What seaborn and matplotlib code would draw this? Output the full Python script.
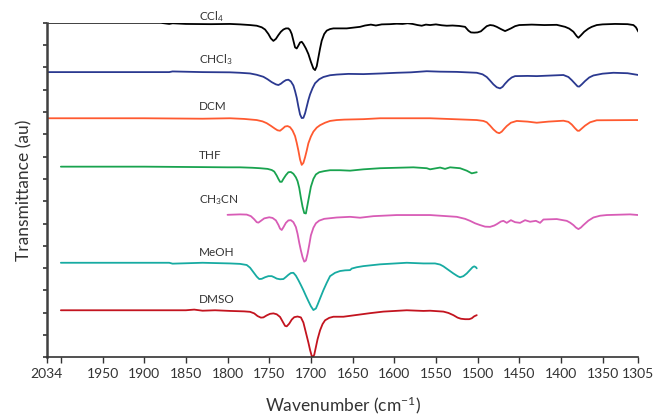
import numpy as np
import pandas as pd
import matplotlib
matplotlib.use("Agg")
import matplotlib.pyplot as plt
import seaborn as sns

# wavenumber (cm-1) and dip depth below each trace's own baseline (au)
ccl4_wn = [2017, 1950, 1880, 1870, 1866, 1850, 1820, 1797, 1785, 1773, 1765, 1759, 1755, 1751, 1748, 1745, 1742, 1739,
           1736, 1733, 1730, 1727, 1725, 1723, 1721, 1719, 1717, 1715, 1713, 1711, 1709, 1706, 1703, 1700, 1697, 1695,
           1693, 1691, 1689, 1687, 1684, 1681, 1677, 1673, 1657, 1641, 1635, 1628, 1622, 1615, 1605, 1597, 1590, 1584,
           1578, 1572, 1567, 1562, 1557, 1550, 1543, 1537, 1530, 1522, 1515, 1511, 1508, 1504, 1500, 1496, 1493, 1489,
           1485, 1481, 1477, 1472, 1467, 1464, 1460, 1455, 1450, 1435, 1420, 1405, 1395, 1390, 1385, 1381, 1379, 1376,
           1372, 1367, 1363, 1357, 1350, 1335, 1320, 1313, 1310, 1307]
ccl4_dip = [0, 0, 0, 0.05, 0.02, 0.05, 0.06, 0.05, 0.07, 0.10, 0.13, 0.20, 0.30, 0.50, 0.70, 0.81, 0.72, 0.55,
            0.40, 0.30, 0.25, 0.25, 0.33, 0.50, 0.80, 1.10, 1.15, 1.02, 0.88, 0.85, 0.95, 1.15, 1.40, 1.75, 2.05, 2.12,
            1.95, 1.55, 1.15, 0.80, 0.50, 0.35, 0.28, 0.25, 0.25, 0.18, 0.12, 0.08, 0.12, 0.07, 0.06, 0.04, 0.05, 0.02,
            0.05, 0.10, 0.13, 0.08, 0.10, 0.07, 0.11, 0.13, 0.12, 0.14, 0.18, 0.35, 0.43, 0.44, 0.43, 0.38, 0.28, 0.15,
            0.10, 0.12, 0.18, 0.28, 0.37, 0.32, 0.25, 0.15, 0.10, 0.08, 0.10, 0.09, 0.18, 0.26, 0.40, 0.60, 0.67, 0.56,
            0.40, 0.26, 0.18, 0.10, 0.07, 0.05, 0.06, 0.10, 0.20, 0.40]

chcl3_wn = [2017, 1900, 1870, 1866, 1830, 1797, 1785, 1773, 1765, 1757, 1752, 1747, 1742, 1739, 1736, 1733, 1730, 1727,
            1724, 1721, 1719, 1717, 1715, 1713, 1711, 1709, 1707, 1705, 1703, 1701, 1698, 1695, 1690, 1685, 1677, 1669,
            1655, 1637, 1615, 1597, 1580, 1561, 1545, 1525, 1501, 1494, 1489, 1485, 1481, 1477, 1473, 1470, 1467, 1463,
            1459, 1455, 1440, 1429, 1410, 1397, 1391, 1387, 1383, 1380, 1378, 1375, 1371, 1366, 1361, 1350, 1337, 1320,
            1307]
chcl3_dip = [0, 0, 0, -0.03, 0, 0.01, 0.03, 0.06, 0.12, 0.21, 0.32, 0.45, 0.55, 0.58, 0.52, 0.43, 0.36, 0.34,
             0.42, 0.60, 0.85, 1.15, 1.55, 1.90, 2.06, 2.05, 1.85, 1.55, 1.25, 1.00, 0.72, 0.50, 0.32, 0.22, 0.14, 0.11,
             0.08, 0.09, 0.06, 0.03, 0.01, -0.04, -0.02, -0.01, 0.03, 0.10, 0.22, 0.38, 0.55, 0.68, 0.73, 0.66, 0.52, 0.36,
             0.24, 0.18, 0.17, 0.18, 0.15, 0.13, 0.22, 0.36, 0.52, 0.64, 0.65, 0.55, 0.40, 0.24, 0.15, 0.07, 0.03, 0.05,
             0.13]

dcm_wn = [2017, 1900, 1830, 1797, 1780, 1765, 1758, 1753, 1748, 1743, 1740, 1737, 1734, 1731, 1728, 1725, 1722, 1719,
          1717, 1715, 1713, 1711, 1709, 1707, 1705, 1703, 1700, 1697, 1693, 1689, 1683, 1677, 1669, 1660, 1637, 1617,
          1557, 1501, 1493, 1489, 1485, 1481, 1477, 1474, 1471, 1468, 1465, 1460, 1453, 1440, 1429, 1415, 1397, 1391,
          1387, 1383, 1380, 1378, 1375, 1371, 1365, 1357, 1307]
dcm_dip = [0, 0, 0.02, 0, 0.03, 0.08, 0.14, 0.22, 0.34, 0.47, 0.54, 0.56, 0.47, 0.37, 0.35, 0.40, 0.55, 0.80,
           1.10, 1.45, 1.85, 2.09, 2.00, 1.75, 1.45, 1.12, 0.82, 0.60, 0.42, 0.31, 0.20, 0.12, 0.08, 0.06, 0.04, 0,
           0, 0.08, 0.12, 0.18, 0.33, 0.50, 0.63, 0.67, 0.60, 0.47, 0.35, 0.20, 0.12, 0.15, 0.20, 0.15, 0.11, 0.16,
           0.28, 0.45, 0.56, 0.56, 0.46, 0.33, 0.18, 0.09, 0.08]

thf_wn = [2000, 1900, 1830, 1800, 1785, 1770, 1761, 1752, 1747, 1744, 1741, 1739, 1737, 1735, 1733, 1730, 1727, 1724,
          1721, 1718, 1716, 1714, 1712, 1710, 1708, 1706, 1704, 1702, 1700, 1697, 1694, 1690, 1684, 1677, 1665, 1653,
          1637, 1617, 1577, 1561, 1557, 1545, 1539, 1533, 1521, 1513, 1507, 1501]
thf_dip = [0, 0, 0.02, 0.03, 0.03, 0.05, 0.07, 0.10, 0.15, 0.22, 0.40, 0.55, 0.68, 0.68, 0.55, 0.38, 0.25, 0.24,
           0.32, 0.48, 0.65, 0.95, 1.40, 1.80, 2.08, 2.10, 1.70, 1.30, 0.90, 0.55, 0.35, 0.25, 0.20, 0.16, 0.16, 0.18,
           0.12, 0.07, 0.03, 0.07, 0.12, 0.04, 0.10, 0.03, 0.07, 0.18, 0.30, 0.25]

ch3cn_wn = [1800, 1785, 1777, 1772, 1768, 1765, 1763, 1760, 1756, 1750, 1746, 1742, 1739, 1737, 1735, 1733, 1730, 1727,
            1724, 1721, 1718, 1716, 1714, 1712, 1710, 1708, 1706, 1704, 1702, 1700, 1697, 1694, 1690, 1684, 1669, 1653,
            1641, 1625, 1597, 1557, 1525, 1515, 1509, 1503, 1497, 1491, 1485, 1480, 1477, 1472, 1469, 1465, 1460, 1455,
            1449, 1443, 1437, 1430, 1425, 1421, 1405, 1393, 1389, 1385, 1382, 1379, 1376, 1373, 1367, 1361, 1353, 1345,
            1317, 1307]
ch3cn_dip = [0, -0.02, -0.01, 0.06, 0.20, 0.33, 0.35, 0.27, 0.16, 0.11, 0.14, 0.25, 0.45, 0.62, 0.68, 0.56, 0.36, 0.25,
             0.24, 0.33, 0.55, 0.85, 1.25, 1.60, 1.90, 2.10, 2.05, 1.75, 1.35, 0.92, 0.58, 0.38, 0.26, 0.18, 0.12, 0.09,
             0.13, 0.06, 0.01, 0.01, 0.09, 0.18, 0.27, 0.38, 0.46, 0.53, 0.54, 0.48, 0.42, 0.30, 0.27, 0.36, 0.24, 0.33,
             0.36, 0.24, 0.31, 0.27, 0.36, 0.21, 0.19, 0.27, 0.35, 0.46, 0.57, 0.64, 0.57, 0.46, 0.26, 0.12, 0.04, 0.01,
             -0.02, 0.01]

meoh_wn = [2000, 1900, 1870, 1866, 1830, 1797, 1785, 1777, 1773, 1769, 1765, 1762, 1759, 1755, 1751, 1747, 1744, 1741,
           1737, 1733, 1730, 1727, 1724, 1721, 1718, 1715, 1712, 1709, 1706, 1703, 1700, 1697, 1694, 1692, 1689, 1685,
           1681, 1677, 1671, 1665, 1659, 1653, 1651, 1645, 1637, 1617, 1585, 1565, 1551, 1545, 1541, 1535, 1529, 1524,
           1521, 1517, 1513, 1509, 1506, 1504, 1502, 1501]
meoh_dip = [0, 0, 0, 0.04, 0, 0.03, 0.05, 0.10, 0.22, 0.42, 0.62, 0.73, 0.72, 0.65, 0.60, 0.60, 0.65, 0.71,
            0.74, 0.73, 0.64, 0.54, 0.46, 0.45, 0.58, 0.78, 1.00, 1.23, 1.48, 1.72, 1.95, 2.12, 2.05, 1.88, 1.60, 1.23,
            0.90, 0.60, 0.45, 0.37, 0.34, 0.33, 0.26, 0.20, 0.15, 0.07, 0, 0.03, 0.03, 0.08, 0.16, 0.32, 0.48, 0.60,
            0.65, 0.60, 0.48, 0.32, 0.20, 0.16, 0.20, 0.25]

dmso_wn = [2000, 1900, 1850, 1840, 1830, 1815, 1797, 1780, 1773, 1768, 1764, 1760, 1757, 1753, 1749, 1745, 1741, 1737,
           1734, 1731, 1729, 1726, 1723, 1720, 1716, 1712, 1709, 1707, 1705, 1703, 1701, 1699, 1698, 1696, 1694, 1692,
           1689, 1686, 1683, 1678, 1673, 1661, 1653, 1645, 1629, 1613, 1585, 1565, 1557, 1541, 1535, 1529, 1524, 1520,
           1515, 1510, 1507, 1504, 1501]
dmso_dip = [0, 0, 0, -0.03, 0.02, 0, 0.03, 0.05, 0.07, 0.14, 0.26, 0.33, 0.32, 0.23, 0.16, 0.14, 0.18, 0.30,
            0.50, 0.70, 0.72, 0.60, 0.42, 0.31, 0.28, 0.32, 0.55, 0.85, 1.15, 1.45, 1.78, 2.05, 2.11, 2.00, 1.65, 1.30,
            0.90, 0.62, 0.45, 0.34, 0.29, 0.29, 0.25, 0.21, 0.13, 0.06, 0, 0.03, 0.02, 0.06, 0.12, 0.22, 0.33, 0.38,
            0.40, 0.40, 0.36, 0.27, 0.22]

solvents = ["CCl4", "CHCl3", "DCM", "THF", "CH3CN", "MeOH", "DMSO"]
labels = ["CCl$_4$", "CHCl$_3$", "DCM", "THF", "CH$_3$CN", "MeOH", "DMSO"]
offsets = [15.0, 12.79, 10.72, 8.55, 6.39, 4.24, 2.11]
colors = ["#000000", "#2b3990", "#ff5a30", "#19a34f", "#d85cb6", "#17aba2", "#c3141f"]
wn_lists = [ccl4_wn, chcl3_wn, dcm_wn, thf_wn, ch3cn_wn, meoh_wn, dmso_wn]
dip_lists = [ccl4_dip, chcl3_dip, dcm_dip, thf_dip, ch3cn_dip, meoh_dip, dmso_dip]

frames = []
for name, off, wn, dip in zip(solvents, offsets, wn_lists, dip_lists):
    frames.append(pd.DataFrame({"wn": wn, "T": off - np.array(dip), "solvent": name}))
df = pd.concat(frames, ignore_index=True)

sns.set_style("ticks")
plt.rcParams["font.family"] = ["Lato", "DejaVu Sans"]
plt.rcParams["mathtext.fontset"] = "custom"
plt.rcParams["mathtext.rm"] = "Lato"
plt.rcParams["mathtext.it"] = "Lato:italic"

fig = plt.figure(figsize=(6.56, 4.15), dpi=100)
ax = fig.add_axes([0.0712, 0.139, 0.902, 0.806])
sns.lineplot(data=df, x="wn", y="T", hue="solvent", palette=dict(zip(solvents, colors)),
             estimator=None, sort=False, legend=False, linewidth=1.3, ax=ax)

label_y = [15.26, 13.33, 11.27, 9.07, 7.05, 4.72, 2.61]
for lab, ly in zip(labels, label_y):
    ax.text(1834, ly, lab, ha="left", va="center", fontsize=8.5, color="#333333", clip_on=False)

ax.set_xlim(2017, 1307)
ax.set_ylim(0, 15)
xt = [2017, 2000] + list(range(1950, 1349, -50)) + [1307]
xl = ["2034", ""] + [str(v) for v in range(1950, 1349, -50)] + ["1305"]
ax.set_xticks(xt)
ax.set_xticklabels(xl, fontsize=10, color="#333333")
ax.set_yticks(range(0, 16))
ax.set_yticklabels([])
ax.tick_params(axis="x", direction="out", length=4, width=1, color="#333333", pad=4)
ax.tick_params(axis="y", direction="out", length=3, width=1.2, color="#333333")
sns.despine(ax=ax)
ax.spines["left"].set_linewidth(1.8)
ax.spines["left"].set_color("#404040")
ax.spines["bottom"].set_linewidth(1.2)
ax.spines["bottom"].set_color("#333333")
ax.set_xlabel("Wavenumber (cm$^{-1}$)", fontsize=12.5, color="#333333", labelpad=10)
ax.set_ylabel("Transmittance (au)", fontsize=12.5, color="#333333", labelpad=4)

fig.savefig("out.png", dpi=100)
